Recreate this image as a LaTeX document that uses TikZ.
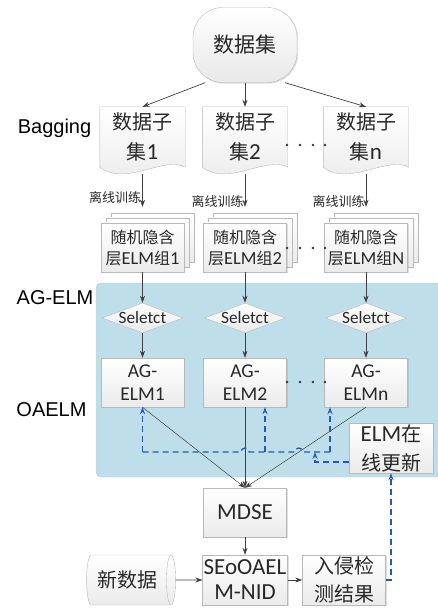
\documentclass[tikz,border=0pt]{standalone}
\usepackage{fontspec}
\setmainfont{Carlito}[Scale=1.15]
\newfontfamily\cjk{Noto Sans CJK SC}
\newfontfamily\arialfont{Liberation Sans}
\usepackage{tikz}
\usetikzlibrary{shapes.geometric,shapes.symbols,arrows.meta,positioning,calc,shadows,backgrounds}
\definecolor{panelblue}{RGB}{190,223,233}
\definecolor{fbblue}{RGB}{38,88,178}
\definecolor{txtgray}{RGB}{40,40,40}
\tikzset{
  box/.style={rectangle, draw=gray!55, top color=white, bottom color=gray!16,
              minimum width=83pt, minimum height=49pt, inner sep=1pt,
              align=center, text=txtgray, font=\fontsize{20}{27}\selectfont,
              drop shadow={opacity=0.25, shadow xshift=1.2pt, shadow yshift=-1.2pt}},
  stackbox/.style={box, font=\fontsize{16}{21}\selectfont},
  doc/.style={rectangle, draw=none, minimum width=85pt, minimum height=60pt,
              inner sep=1pt, align=center, text=txtgray,
              font=\fontsize{20}{30}\selectfont},
  docfill/.style={draw=gray!55, top color=white, bottom color=gray!16},
  term/.style={rectangle, rounded corners=30pt, draw=gray!55, top color=white,
               bottom color=gray!18, minimum width=104pt, minimum height=75pt,
               text=txtgray, font=\fontsize{21}{25}\selectfont,
               drop shadow={opacity=0.25, shadow xshift=1.2pt, shadow yshift=-1.2pt}},
  sel/.style={diamond, draw=gray!55, top color=white, bottom color=gray!18,
              aspect=2.7, inner sep=0pt, minimum width=81pt, minimum height=30pt,
              text=txtgray, font=\fontsize{15}{18}\selectfont},
  store/.style={cylinder, draw=gray!55, top color=white, bottom color=gray!16,
                aspect=0.35, minimum width=50pt, minimum height=89pt,
                shape border rotate=0, text=txtgray, font=\fontsize{20}{24}\selectfont},
  side/.style={font=\arialfont\fontsize{20}{24}\selectfont, text=black},
  train/.style={font=\cjk\fontsize{13}{15}\selectfont, text=txtgray, inner sep=1pt},
  arr/.style={-{Stealth[length=7pt,width=5pt]}, draw=black!75, line width=0.7pt},
  fb/.style={-{Stealth[length=7pt,width=5pt]}, draw=fbblue, line width=1.3pt,
             dash pattern=on 6pt off 4pt},
  fbline/.style={draw=fbblue, line width=1.3pt, dash pattern=on 6pt off 4pt}
}
\begin{document}
\begin{tikzpicture}[x=1pt,y=-1pt]
  \useasboundingbox (0,0) rectangle (438,609);
  % online panel
  \draw[fill=panelblue, draw=panelblue!80!gray, rounded corners=5pt] (96,283) rectangle (442,477);
  \node[side] (lbag) at (54.5,128) {Bagging};
  \node[side] (lag) at (55,298) {AG-ELM};
  \node[side] (loa) at (51.5,410) {OAELM};

  \node[term] (ds) at (245,45) {{\cjk 数据集}};
  \node[doc] (sub1) at (142.5,137) {{\cjk 数据子}\\{\cjk 集}1};
  \node[doc] (sub2) at (245,137) {{\cjk 数据子}\\{\cjk 集}2};
  \node[doc] (sub3) at (366,137) {{\cjk 数据子}\\{\cjk 集}n};

  \node[stackbox] (grp1) at (142.5,247.5) {{\cjk 随机隐含}\\{\cjk 层}ELM{\cjk 组}1};
  \node[stackbox] (grp2) at (245,247.5) {{\cjk 随机隐含}\\{\cjk 层}ELM{\cjk 组}2};
  \node[stackbox] (grp3) at (366,247.5) {{\cjk 随机隐含}\\{\cjk 层}ELM{\cjk 组}N};
  \begin{scope}[on background layer]
    \foreach \n in {sub1,sub2,sub3}
      \path[docfill] (\n.north west) -- (\n.north east) -- (\n.south east)
        .. controls ($(\n.south east)+(-20pt,12pt)$) and ($(\n.south west)+(25pt,-20pt)$) .. (\n.south west) -- cycle;
    \foreach \n in {grp1,grp2,grp3}
      \foreach \s in {10,5}
        \path[docfill] ([shift={(\s pt,\s pt)}]\n.south west) rectangle ([shift={(\s pt,\s pt)}]\n.north east);
  \end{scope}

  \node[sel] (sel1) at (142.5,318) {Seletct};
  \node[sel] (sel2) at (245,318) {Seletct};
  \node[sel] (sel3) at (366,318) {Seletct};

  \node[box, font=\fontsize{17}{23}\selectfont] (ag1) at (142.5,382.5) {AG-\\ELM1};
  \node[box, font=\fontsize{17}{23}\selectfont] (ag2) at (245,382.5) {AG-\\ELM2};
  \node[box, font=\fontsize{17}{23}\selectfont] (ag3) at (366,382.5) {AG-\\ELMn};

  \node[box, minimum width=84pt, minimum height=50pt, font=\fontsize{20}{29}\selectfont] (upd) at (391,448) {ELM{\cjk 在}\\{\cjk 线更新}};
  \node[box, font=\fontsize{20}{24}\selectfont] (mdse) at (245,512.5) {MDSE};
  \node[box, minimum height=50pt, font=\fontsize{20}{25}\selectfont] (seo) at (245,580) {SEoOAEL\\M-NID};
  \node[store] (newd) at (127.5,580) {{\cjk 新数据}};
  \node[box, minimum height=50pt, font=\cjk\fontsize{20}{28}\selectfont] (res) at (344,580) {入侵检\\测结果};

  % ellipsis dots
  \foreach \y in {145,248,382}
    \foreach \x in {287,300,313,325}
      \fill[black!80] (\x,\y) circle (1.4pt);

  \draw[arr] ([xshift=-40pt]ds.south) -- (sub1.north);
  \draw[arr] (ds.south) -- (sub2.north);
  \draw[arr] ([xshift=40pt]ds.south) -- (sub3.north);
  \draw[arr, shorten >=16pt] ([yshift=-7pt]sub1.south) -- node[train, left, pos=0.47] {离线训练} (grp1.north);
  \draw[arr, shorten >=16pt] ([yshift=-7pt]sub2.south) -- node[train, left, pos=0.56] {离线训练} (grp2.north);
  \draw[arr, shorten >=16pt] ([yshift=-7pt]sub3.south) -- node[train, left, pos=0.56] {离线训练} (grp3.north);
  \foreach \i in {1,2,3} {
    \draw[arr] (grp\i.south) -- (sel\i.north);
    \draw[arr] (sel\i.south) -- (ag\i.north);
  }
  \draw[arr, line width=0.5pt] (ag1.south) -- (mdse.north);
  \draw[arr, line width=0.5pt] (ag2.south) -- (mdse.north);
  \draw[arr, line width=0.5pt] (ag3.south) -- (mdse.north);
  \draw[arr] (mdse) -- (seo);
  \draw[arr] (newd) -- (seo);
  \draw[arr] (seo) -- (res);

  % online update feedback
  \coordinate (busL) at (142.5,452);
  \coordinate (busM) at (265,452);
  \coordinate (busR) at (330,452);
  \coordinate (tap) at (315,452);
  \coordinate (hopA) at (ag2.south |- busL);
  \coordinate (hopB) at (298.8,452);
  \draw[fb] (res.east) -| (upd.south);
  \draw[fbline] (busL) -- ([xshift=-4pt]hopA) arc[start angle=180, end angle=0, radius=4pt]
    -- ([xshift=-4pt]hopB) arc[start angle=180, end angle=0, radius=4pt] -- (busR);
  \draw[fb] ([yshift=-14pt]upd.west) -| (tap);
  \draw[fb] (busL) -- (ag1.south);
  \draw[fb] (busM) -- (busM |- ag2.south);
  \draw[fb] (busR) -- (busR |- ag3.south);
\end{tikzpicture}
\end{document}
